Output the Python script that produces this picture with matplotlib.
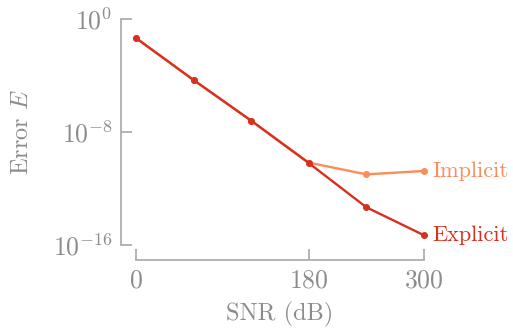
import matplotlib
matplotlib.use("Agg")
import matplotlib.pyplot as plt
from matplotlib.ticker import FixedLocator, LogFormatterMathtext

snr = [0, 60, 120, 180, 240, 300]
explicit = [10**-1.35, 10**-4.32, 10**-7.2, 10**-10.2, 10**-13.33, 10**-15.31]
implicit = [10**-1.35, 10**-4.32, 10**-7.2, 10**-10.17, 10**-11.0, 10**-10.76]

x_ticks = [0, 180, 300]
y_ticks = [1e-16, 1e-8, 1e0]

red = "#d7301f"
orange = "#fc8d59"
grey = "#8c8c8c"
spine_grey = "#a8a8a8"

plt.rcParams["font.family"] = "serif"
plt.rcParams["font.serif"] = ["cmr10", "DejaVu Serif"]
plt.rcParams["mathtext.fontset"] = "cm"
plt.rcParams["axes.formatter.use_mathtext"] = True

fig = plt.figure(figsize=(5.13, 3.33), dpi=100)
ax = fig.add_axes([136 / 513, 1 - 245 / 333, 288 / 513, 226 / 333])

ax.plot(snr, implicit, color=orange, linewidth=1.7, marker="o", markersize=4, clip_on=False)
ax.plot(snr, explicit, color=red, linewidth=1.7, marker="o", markersize=4, clip_on=False)

ax.set_yscale("log")
ax.set_xlim(0, 300)
ax.set_ylim(1e-16, 1e0)
ax.xaxis.set_major_locator(FixedLocator(x_ticks))
ax.yaxis.set_major_locator(FixedLocator(y_ticks))
ax.yaxis.set_major_formatter(LogFormatterMathtext())
ax.yaxis.set_minor_locator(FixedLocator([]))

for side in ["top", "right"]:
    ax.spines[side].set_visible(False)
for side in ["left", "bottom"]:
    ax.spines[side].set_position(("outward", 10.8))
    ax.spines[side].set_color(spine_grey)
    ax.spines[side].set_linewidth(1.2)

ax.tick_params(direction="in", length=8, width=1.2, color=spine_grey,
               labelcolor=grey, labelsize=18.5, pad=6)

ax.set_xlabel("SNR (dB)", color=grey, fontsize=17.5, labelpad=7)
ax.set_ylabel("Error $E$", color=grey, fontsize=17.5, labelpad=14)

ax.annotate("Implicit", (snr[-1], implicit[-1]), xytext=(6, 0), textcoords="offset points",
            va="center", ha="left", color=orange, fontsize=16, annotation_clip=False)
ax.annotate("Explicit", (snr[-1], explicit[-1]), xytext=(6, 0), textcoords="offset points",
            va="center", ha="left", color=red, fontsize=16, annotation_clip=False)

fig.savefig("out.png", dpi=100)
